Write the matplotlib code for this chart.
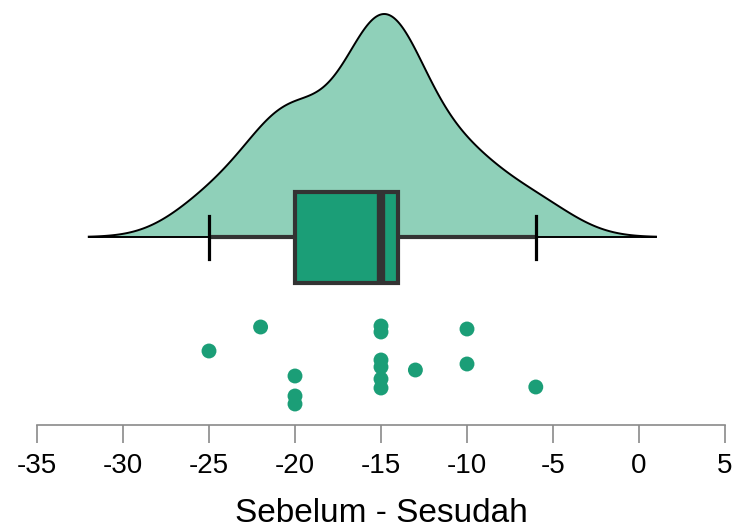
import numpy as np
import matplotlib.pyplot as plt

plt.rcParams['font.family'] = ['Liberation Sans', 'DejaVu Sans']

# differences (Sebelum - Sesudah)
diffs = [-25, -22, -20, -20, -20, -15, -15, -15, -15, -15, -15, -13, -10, -10, -6]
# vertical jitter of the dots (pixel rows)
jitter = [351, 327, 376, 396, 404, 326, 332, 360, 367, 379, 388, 370, 329, 364, 387]
xticks = [-35, -30, -25, -20, -15, -10, -5, 0, 5]

fill_col = '#8fd0b9'
dark_col = '#1b9e77'
edge_col = '#333333'

x = np.array(diffs, dtype=float)
bw = 2.33
grid = np.linspace(x.min() - 3 * bw, x.max() + 3 * bw, 512)
dens = np.exp(-0.5 * ((grid[:, None] - x[None, :]) / bw) ** 2).sum(axis=1)
dens = dens / dens.max()

q1, med, q3 = np.percentile(x, [25, 50, 75])
base = 237
cloud_h = 223

fig = plt.figure(figsize=(7.36, 5.29), dpi=100)
ax = fig.add_axes([37 / 736, 104 / 529, 688 / 736, 425 / 529])
ax.set_xlim(-35, 5)
ax.set_ylim(425, 0)

# closed cloud polygon
px = np.concatenate([grid, grid[::-1]])
py = np.concatenate([base - dens * cloud_h, np.full(grid.size, base)])
ax.fill(px, py, facecolor=fill_col, edgecolor='black', lw=1.4, zorder=1)

# whiskers
ax.plot([x.min(), x.max()], [base, base], color=edge_col, lw=3, zorder=3, solid_capstyle='butt')
for w in [x.min(), x.max()]:
    ax.plot([w, w], [base - 21, base + 22], color='black', lw=2.3, zorder=3)
# box
ax.add_patch(plt.Rectangle((q1, base - 45), q3 - q1, 91, facecolor=dark_col,
                           edgecolor=edge_col, lw=3, zorder=4))
ax.plot([med, med], [base - 45, base + 46], color=edge_col, lw=6, zorder=5, solid_capstyle='butt')

ax.scatter(x, jitter, s=115, color=dark_col, edgecolor='none', zorder=5)

for s in ['top', 'right', 'left']:
    ax.spines[s].set_visible(False)
ax.spines['bottom'].set_color('#8a8a8a')
ax.spines['bottom'].set_linewidth(1.2)
ax.set_yticks([])
ax.set_xticks(xticks)
ax.set_xticklabels([str(t) for t in xticks], fontsize=20)
ax.tick_params(axis='x', length=13, width=1.2, color='#8a8a8a', pad=7)
ax.set_xlabel('Sebelum - Sesudah', fontsize=24)
ax.xaxis.set_label_coords(0.5, -0.172)

fig.savefig('out.png', dpi=100)
